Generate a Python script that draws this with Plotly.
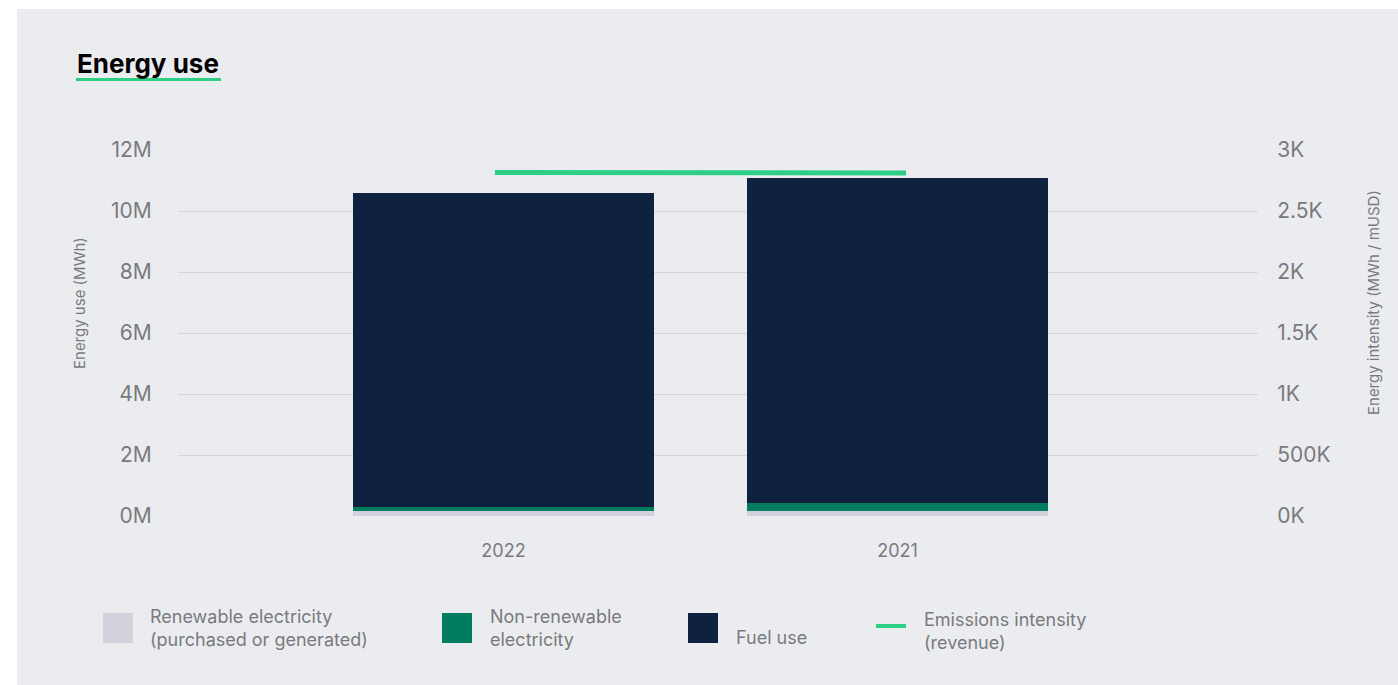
import plotly.graph_objects as go

# ---- data ----
years = ["2022", "2021"]
renewable = [0.16e6, 0.16e6]        # MWh
non_renewable = [0.13e6, 0.26e6]    # MWh
fuel_use = [10.30e6, 10.66e6]       # MWh
intensity = [2815, 2812]            # MWh / mUSD

y_ticks = [0, 2e6, 4e6, 6e6, 8e6, 10e6, 12e6]
y_ticktext = ["0M", "2M", "4M", "6M", "8M", "10M", "12M"]
y2_ticks = [0, 500, 1000, 1500, 2000, 2500, 3000]
y2_ticktext = ["0K", "500K", "1K", "1.5K", "2K", "2.5K", "3K"]

# ---- styling ----
BG = "#ebecf0"
C_REN = "#d1d2dc"
C_NON = "#007c5e"
C_FUEL = "#0e2240"
C_LINE = "#2ccf84"
TXT = "#7a7a7e"
FONT = "Inter"

W, H = 1398, 685
L, R, T, B = 178, 1258, 150, 516  # plot area in pixels


def px(x):
    return (x - L) / (R - L)


def py(y):
    return (B - y) / (B - T)


fig = go.Figure()
fig.add_trace(go.Bar(x=years, y=renewable, name="Renewable electricity (purchased or generated)",
                     marker=dict(color=C_REN, line=dict(width=0)), width=0.764, showlegend=False))
fig.add_trace(go.Bar(x=years, y=non_renewable, name="Non-renewable electricity",
                     marker=dict(color=C_NON, line=dict(width=0)), width=0.764, showlegend=False))
fig.add_trace(go.Bar(x=years, y=fuel_use, name="Fuel use",
                     marker=dict(color=C_FUEL, line=dict(width=0)), width=0.764, showlegend=False))
fig.add_trace(go.Scatter(x=years, y=intensity, name="Emissions intensity (revenue)", mode="lines",
                         line=dict(color=C_LINE, width=5), xaxis="x2", yaxis="y2", showlegend=False))

shapes = [
    # panel background
    dict(type="rect", xref="paper", yref="paper", x0=px(17), x1=px(W + 5), y0=py(H + 5), y1=py(9),
         fillcolor=BG, line=dict(width=0), layer="below"),
    # title underline
    dict(type="line", xref="paper", yref="paper", x0=px(76), x1=px(221), y0=py(79.5), y1=py(79.5),
         line=dict(color=C_LINE, width=3)),
]

annotations = [
    dict(text="<b>Energy use</b>", xref="paper", yref="paper", x=px(75), y=py(64),
         xanchor="left", yanchor="middle", showarrow=False,
         font=dict(family=FONT, size=26, color="#000000")),
    dict(text="Energy use (MWh)", xref="paper", yref="paper", x=px(79), y=py(303),
         xanchor="center", yanchor="middle", textangle=-90, showarrow=False,
         font=dict(family=FONT, size=15, color=TXT)),
    dict(text="Energy intensity (MWh / mUSD)", xref="paper", yref="paper", x=px(1373), y=py(303),
         xanchor="center", yanchor="middle", textangle=-90, showarrow=False,
         font=dict(family=FONT, size=15, color=TXT)),
]

# manual legend
legend_items = [
    ("rect", C_REN, 103, "Renewable electricity<br>(purchased or generated)", 148, 628),
    ("rect", C_NON, 442, "Non-renewable<br>electricity", 488, 628),
    ("rect", C_FUEL, 688, "Fuel use", 734, 637),
    ("line", C_LINE, 876, "Emissions intensity<br>(revenue)", 922, 631),
]
for kind, col, x0, label, tx, ty in legend_items:
    if kind == "rect":
        shapes.append(dict(type="rect", xref="paper", yref="paper", x0=px(x0), x1=px(x0 + 30),
                           y0=py(643), y1=py(613), fillcolor=col, line=dict(width=0)))
    else:
        shapes.append(dict(type="line", xref="paper", yref="paper", x0=px(x0), x1=px(x0 + 30),
                           y0=py(626), y1=py(626), line=dict(color=col, width=4)))
    annotations.append(dict(text=label, xref="paper", yref="paper", x=px(tx), y=py(ty),
                            xanchor="left", yanchor="middle", align="left", showarrow=False,
                            font=dict(family=FONT, size=18, color=TXT)))

fig.update_layout(
    width=W, height=H,
    margin=dict(l=L, r=W - R, t=T, b=H - B, pad=0),
    paper_bgcolor="white",
    plot_bgcolor=BG,
    barmode="stack",
    bargap=0,
    font=dict(family=FONT, color=TXT),
    shapes=shapes,
    annotations=annotations,
    xaxis=dict(type="category", range=[-0.826, 1.915], showgrid=False, zeroline=False,
               showline=False, ticks="outside", ticklen=18, tickcolor="rgba(0,0,0,0)",
               tickfont=dict(family=FONT, size=18, color=TXT)),
    xaxis2=dict(type="category", range=[-0.771, 1.856], overlaying="x", visible=False,
                showgrid=False, zeroline=False),
    yaxis=dict(range=[0, 12e6], tickvals=y_ticks, ticktext=y_ticktext, showgrid=True,
               gridcolor="#d4d5dd", gridwidth=1, zeroline=False, showline=False,
               ticks="outside", ticklen=21, tickcolor="rgba(0,0,0,0)",
               tickfont=dict(family=FONT, size=21, color=TXT)),
    yaxis2=dict(range=[0, 3000], tickvals=y2_ticks, ticktext=y2_ticktext, overlaying="y",
                side="right", showgrid=False, zeroline=False, showline=False,
                ticks="outside", ticklen=14, tickcolor="rgba(0,0,0,0)",
                tickfont=dict(family=FONT, size=21, color=TXT)),
)

fig.write_html("out.html", config={"displayModeBar": False},
               post_script="document.body.style.margin='0px';document.body.style.overflow='hidden';")
